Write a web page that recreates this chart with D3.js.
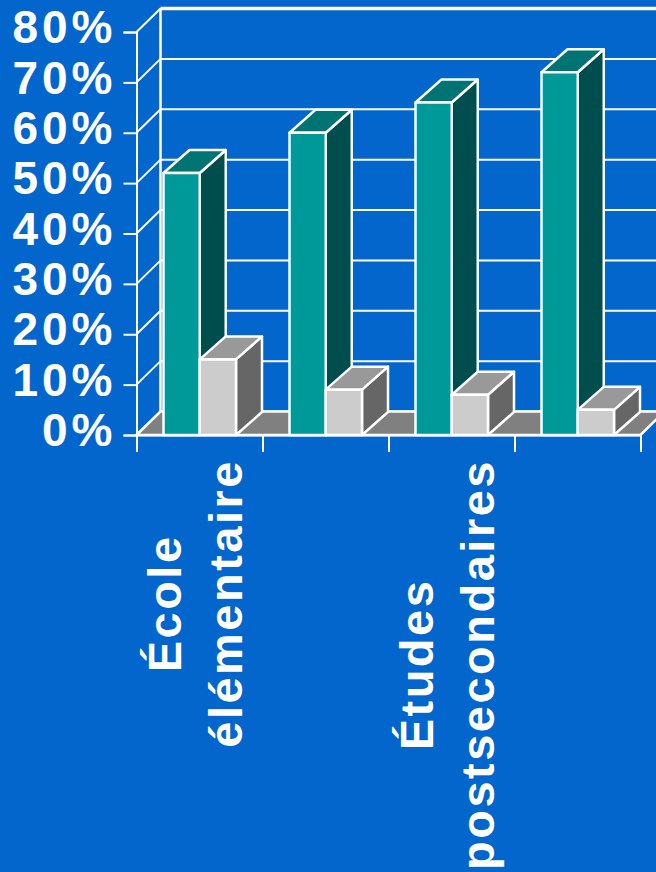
<!DOCTYPE html>
<html lang="fr">
<head>
<meta charset="utf-8">
<script src="https://cdn.jsdelivr.net/npm/d3@7"></script>
<style>
  html, body { margin: 0; padding: 0; background: #0366cd; overflow: hidden; }
  svg { display: block; }
  text { font-family: "Liberation Sans", Arial, sans-serif; font-weight: 700; fill: #fff; }
</style>
</head>
<body>
<svg id="chart" width="656" height="872"></svg>
<script>
// Share per education level (percent); only every other level carries a label.
const levels = [0, 1, 2, 3];
const levelLabels = [["École", "élémentaire"], [], ["Études", "postsecondaires"], []];
const seriesA = [52, 60, 66, 72];
const seriesB = [15, 9, 8, 5];
const percentTicks = [0, 10, 20, 30, 40, 50, 60, 70, 80];

const svg = d3.select("#chart");
const W = 656, H = 872;
const x0 = 136.5, x1 = 640.5, y0 = 435, y80 = 32;
const wallDx = 24, wallDy = -23.5;   // offset from the front plane to the back wall
const barDx = 26, barDy = -23;       // depth of each 3D bar

const x = d3.scaleBand().domain(levels).range([x0, x1]);
const y = d3.scaleLinear().domain([0, 80]).range([y0, y80]);
const seriesX = d3.scaleBand().domain(["a", "b"])
  .range([27, 99.5]);

svg.append("rect").attr("width", W).attr("height", H).attr("fill", "#0366cd");

const poly = pts => pts.map(p => p.join(",")).join(" ");

// Back wall and side wall gridlines
const grid = svg.append("g").attr("stroke", "#fff").attr("fill", "none");
percentTicks.forEach(t => {
  const top = t === 80;
  grid.append("line")
    .attr("x1", x0 + wallDx).attr("x2", x1 + wallDx)
    .attr("y1", y(t) + wallDy).attr("y2", y(t) + wallDy)
    .attr("stroke-width", top ? 3.5 : 2);
  grid.append("line")
    .attr("x1", x0).attr("x2", x0 + wallDx)
    .attr("y1", y(t)).attr("y2", y(t) + wallDy)
    .attr("stroke-width", 2);
});
grid.append("line")
  .attr("x1", x0 + wallDx).attr("x2", x0 + wallDx)
  .attr("y1", y(80) + wallDy).attr("y2", y(0) + wallDy)
  .attr("stroke-width", 2.5);

// Floor
svg.append("polygon")
  .attr("points", poly([[x0, y0], [x0 + wallDx, y0 + wallDy], [x1 + wallDx, y0 + wallDy], [x1, y0]]))
  .attr("fill", "#808080").attr("stroke", "#fff").attr("stroke-width", 2.5);

// Draws one bar as three faces: front, top, right side
function bar(g, left, value, colors) {
  const w = seriesX.bandwidth(), top = y(value), base = y(0);
  const face = (pts, fill) => g.append("polygon")
    .attr("points", poly(pts)).attr("fill", fill)
    .attr("stroke", "#fff").attr("stroke-width", 2.5).attr("stroke-linejoin", "round");
  face([[left + w, top], [left + w + barDx, top + barDy], [left + w + barDx, base + barDy], [left + w, base]], colors.side);
  face([[left, top], [left + barDx, top + barDy], [left + w + barDx, top + barDy], [left + w, top]], colors.top);
  face([[left, top], [left + w, top], [left + w, base], [left, base]], colors.front);
}

const colorsA = { front: "#009999", top: "#007373", side: "#004d4d" };
const colorsB = { front: "#cccccc", top: "#999999", side: "#666666" };
const bars = svg.append("g");
levels.forEach(i => {
  bar(bars, x(i) + seriesX("a"), seriesA[i], colorsA);
  bar(bars, x(i) + seriesX("b"), seriesB[i], colorsB);
});

// Y axis
const yAxis = d3.axisLeft(y).tickValues(percentTicks).tickSize(13).tickPadding(0)
  .tickFormat(d => d + "%");
const yG = svg.append("g").attr("transform", `translate(${x0},0)`).call(yAxis);
yG.selectAll("path").attr("stroke", "#fff").attr("stroke-width", 2);
yG.selectAll(".tick line").attr("stroke", "#fff").attr("stroke-width", 2);
yG.selectAll(".tick text")
  .attr("x", -20).attr("dy", "0.32em").attr("y", -4)
  .style("font-size", "46px").style("letter-spacing", "4px")
  .attr("text-anchor", "end").attr("fill", "#fff");

// X axis with ticks at band edges
const edgeScale = d3.scaleLinear().domain([0, levels.length]).range([x0, x1]);
const xAxis = d3.axisBottom(edgeScale).tickValues(d3.range(levels.length + 1))
  .tickSize(17).tickFormat("").tickSizeOuter(0);
const xG = svg.append("g").attr("transform", `translate(0,${y0})`).call(xAxis);
xG.selectAll("path, .tick line").attr("stroke", "#fff").attr("stroke-width", 2);

// Rotated category labels; each block is hung from a common top edge
const labelTop = 459;
const labelFont = 47, lineGap = 61;
levels.forEach(i => {
  const lines = levelLabels[i];
  if (!lines.length) return;
  const cx = x(i) + x.bandwidth() / 2;
  const nodes = lines.map((line, k) => svg.append("text")
    .text(line)
    .attr("text-anchor", "middle")
    .style("font-size", labelFont + "px")
    .style("letter-spacing", "2.5px")
    .attr("transform", `translate(${cx - 19 + k * lineGap},0) rotate(-90)`));
  const longest = d3.max(nodes, n => n.node().getComputedTextLength());
  nodes.forEach((n, k) => n.attr("transform",
    `translate(${cx - 19 + k * lineGap},${labelTop + longest / 2}) rotate(-90)`));
});
</script>
</body>
</html>
